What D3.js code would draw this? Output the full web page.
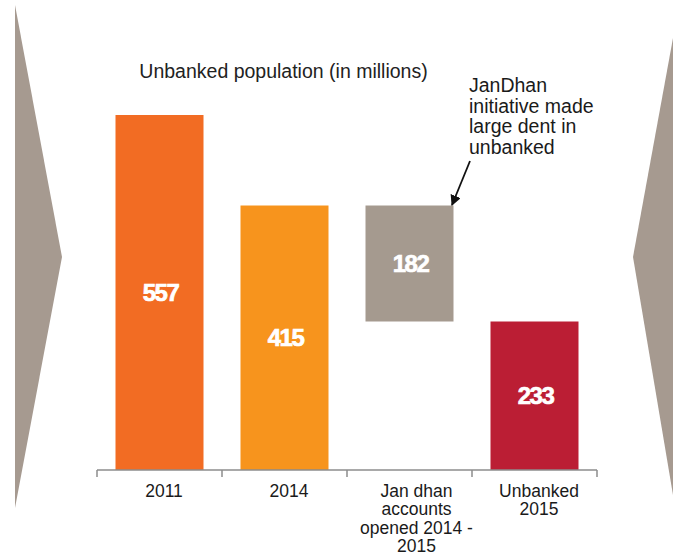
<!DOCTYPE html>
<html><head><meta charset="utf-8">
<script src="https://cdn.jsdelivr.net/npm/d3@7"></script>
<style>body{margin:0;background:#fff}svg{display:block}</style>
</head><body><svg id="c" width="673" height="558"></svg>
<script>
const categories = ["2011", "2014", "Jan dhan accounts opened 2014 - 2015", "Unbanked 2015"];
const categoryLines = [["2011"], ["2014"], ["Jan dhan", "accounts", "opened 2014 -", "2015"], ["Unbanked", "2015"]];
const barBase = [0, 0, 233, 0];
const barTop = [557, 415, 415, 233];
const valueLabels = ["557", "415", "182", "233"];
const colors = ["#f26c23", "#f7941d", "#a59a8f", "#bb1e34"];
const title = "Unbanked population (in millions)";
const noteLines = ["JanDhan", "initiative made", "large dent in", "unbanked"];

const svg = d3.select("#c");
const font = "'Liberation Sans', Arial, Helvetica, sans-serif";

// side chevrons
svg.append("polygon").attr("points", "15,5 62,257 15,508").attr("fill", "#a69a90");
svg.append("polygon").attr("points", "673,38 633,257 673,495").attr("fill", "#a69a90");

const x = d3.scaleBand().domain(categories).range([97, 597]).paddingInner(0.296).paddingOuter(0.148);
const y = d3.scaleLinear().domain([0, 557]).range([470, 115]);

const data = categories.map((c, i) => ({c, i, b: barBase[i], t: barTop[i]}));

svg.selectAll("rect.bar").data(data).enter().append("rect")
  .attr("class", "bar")
  .attr("x", d => x(d.c)).attr("width", x.bandwidth())
  .attr("y", d => y(d.t)).attr("height", d => y(d.b) - y(d.t))
  .attr("fill", d => colors[d.i]);

svg.selectAll("text.val").data(data).enter().append("text")
  .attr("class", "val")
  .attr("x", d => x(d.c) + x.bandwidth() / 2 + 1)
  .attr("y", d => (y(d.b) + y(d.t)) / 2)
  .attr("dy", "0.36em")
  .attr("text-anchor", "middle")
  .attr("font-family", font).attr("font-weight", "bold").attr("font-size", 24)
  .attr("letter-spacing", -1.5)
  .attr("fill", "#fff").attr("stroke", "#fff").attr("stroke-width", 0.7)
  .text(d => valueLabels[d.i]);

// axis
const axisG = svg.append("g");
axisG.append("line").attr("x1", 97).attr("x2", 597).attr("y1", 470).attr("y2", 470)
  .attr("stroke", "#8c8c8c").attr("stroke-width", 1.5);
const edges = categories.map(c => x(c) - x.step() * x.paddingInner() / 2);
edges.push(597);
edges[0] = 97;
axisG.selectAll("line.tick").data(edges).enter().append("line")
  .attr("class", "tick")
  .attr("x1", d => d).attr("x2", d => d).attr("y1", 470).attr("y2", 477)
  .attr("stroke", "#8c8c8c").attr("stroke-width", 1.5);

const labG = svg.selectAll("g.lab").data(data).enter().append("g").attr("class", "lab");
labG.each(function(d) {
  const g = d3.select(this);
  categoryLines[d.i].forEach((ln, k) => {
    g.append("text")
      .attr("x", x(d.c) + x.bandwidth() / 2 + (d.i === 2 ? 7 : 4.5))
      .attr("y", 496.5 + k * 18.5)
      .attr("text-anchor", "middle")
      .attr("font-family", font).attr("font-size", 17.5)
      .attr("fill", "#1a1a1a")
      .text(ln);
  });
});

svg.append("text").attr("x", 283.5).attr("y", 78).attr("text-anchor", "middle")
  .attr("font-family", font).attr("font-size", 19.5).attr("fill", "#222")
  .text(title);

noteLines.forEach((ln, k) => {
  svg.append("text").attr("x", 469).attr("y", 92 + k * 20.5)
    .attr("font-family", font).attr("font-size", 19.5).attr("fill", "#1a1a1a")
    .text(ln);
});

// arrow
const defs = svg.append("defs");
defs.append("marker").attr("id", "ah").attr("viewBox", "0 0 10 10")
  .attr("refX", 9).attr("refY", 5).attr("markerWidth", 6).attr("markerHeight", 6)
  .attr("orient", "auto")
  .append("path").attr("d", "M0,0 L10,5 L0,10 z").attr("fill", "#111");
svg.append("line").attr("x1", 470).attr("y1", 161).attr("x2", 452).attr("y2", 205)
  .attr("stroke", "#111").attr("stroke-width", 1.8).attr("marker-end", "url(#ah)");
</script></body></html>
